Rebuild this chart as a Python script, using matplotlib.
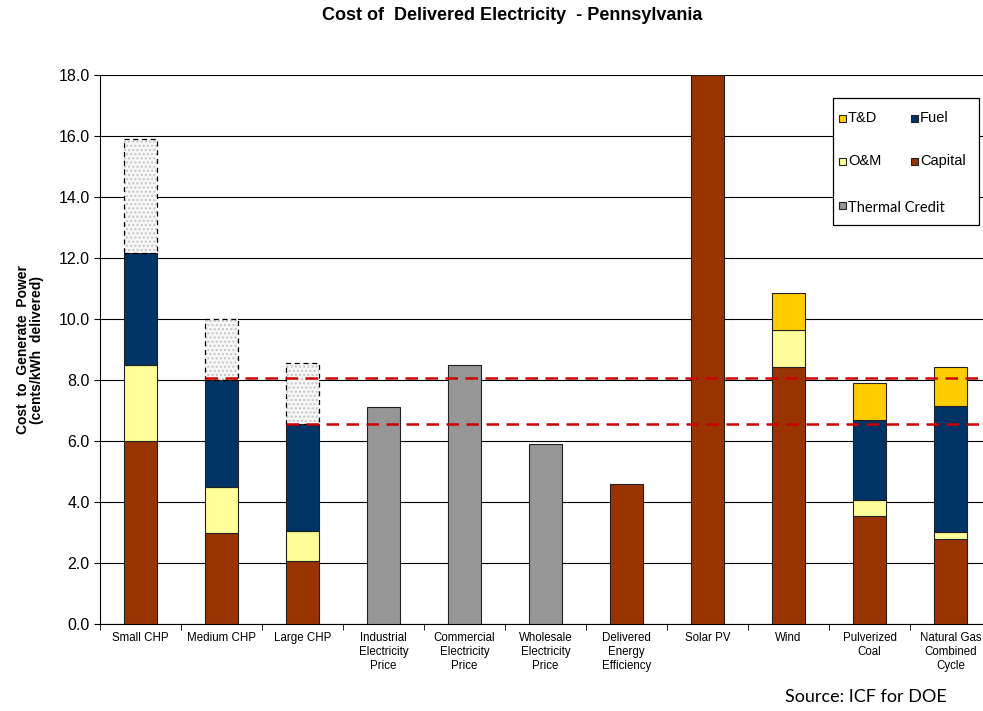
import numpy as np
import matplotlib
matplotlib.use("Agg")
import matplotlib.pyplot as plt
from matplotlib.patches import Rectangle

# ---- data (cents/kWh delivered) ----
categories = ["Small CHP", "Medium CHP", "Large CHP",
              "Industrial\nElectricity\nPrice", "Commercial\nElectricity\nPrice",
              "Wholesale\nElectricity\nPrice", "Delivered\nEnergy\nEfficiency",
              "Solar PV", "Wind", "Pulverized\nCoal", "Natural Gas\nCombined\nCycle"]
capital = [6.0, 3.0, 2.05, 0, 0, 0, 4.6, 18.0, 8.43, 3.55, 2.8]
om      = [2.5, 1.5, 1.0, 0, 0, 0, 0, 0, 1.2, 0.52, 0.22]
fuel    = [3.65, 3.5, 3.5, 0, 0, 0, 0, 0, 0, 2.62, 4.13]
td      = [0, 0, 0, 0, 0, 0, 0, 0, 1.23, 1.22, 1.29]
thermal = [3.75, 2.0, 2.0, 0, 0, 0, 0, 0, 0, 0, 0]
price   = [0, 0, 0, 7.1, 8.5, 5.9, 0, 0, 0, 0, 0]

ref_lines  = [8.07, 6.56]          # CHP net cost reference levels
ref_starts = [1, 2]                # category index where each line begins

C_CAP, C_OM, C_FUEL, C_TD, C_GRAY = "#993300", "#FFFF99", "#003366", "#FFCC00", "#969696"

W, H = 983, 711
fig = plt.figure(figsize=(W / 100, H / 100), dpi=100, facecolor="white")
# plot area runs a little past the right edge of the picture (cropped source)
ax = fig.add_axes([100 / W, 87 / H, 891 / W, 549 / H])


def px(x, y):
    # figure pixel (from top-left) -> figure fraction
    return x / W, 1 - y / H


x = np.arange(len(categories))
w = 0.41
ek = dict(edgecolor="#222222", linewidth=0.8, zorder=3)

bottom = np.zeros(len(x))
for vals, col in [(capital, C_CAP), (om, C_OM), (fuel, C_FUEL), (td, C_TD)]:
    v = np.array(vals, dtype=float)
    m = v > 0
    ax.bar(x[m], v[m], w, bottom=bottom[m], color=col, **ek)
    bottom += v

# thermal credit on top of CHP bars: light dotted fill, dashed outline
t = np.array(thermal, dtype=float)
m = t > 0
ax.bar(x[m], t[m], w, bottom=bottom[m], facecolor="#f7f7f7", hatch="....",
       edgecolor="#c4c4c4", linewidth=0, zorder=3)
ax.bar(x[m], t[m], w, bottom=bottom[m], facecolor="none",
       edgecolor="#000000", linestyle=(0, (4, 3)), linewidth=0.9, zorder=4)

p = np.array(price, dtype=float)
m = p > 0
ax.bar(x[m], p[m], w, color=C_GRAY, **ek)

for y, s in zip(ref_lines, ref_starts):
    ax.hlines(y, s - w / 2, len(x) - 0.5, colors="#CC0000", linestyles=(0, (5, 3)),
              linewidth=1.8, zorder=5)

ax.set_xlim(-0.5, len(x) - 0.5)
ax.set_ylim(0, 18)
yt = np.arange(0, 18.1, 2)
ax.set_yticks(yt)
ax.set_yticklabels([f"{v:.1f}" for v in yt], fontsize=11.5, family="Liberation Sans")
ax.yaxis.grid(True, color="black", linewidth=0.8, zorder=0)
ax.set_axisbelow(True)

ax.set_xticks(x)
ax.set_xticklabels(categories, fontsize=8.3, family="Liberation Sans",
                   linespacing=1.2, va="top")
ax.tick_params(axis="x", length=0, pad=6)
ax.set_xticks(np.arange(-0.5, len(x) - 0.4, 1), minor=True)
ax.tick_params(axis="x", which="minor", length=4, direction="out", color="black")
ax.tick_params(axis="y", length=4.5, direction="out", color="black", pad=3)

for side in ("top", "right"):
    ax.spines[side].set_visible(False)

ax.set_ylabel("Cost  to  Generate  Power\n(cents/kWh  delivered)", fontsize=10,
              fontweight="bold", family="Liberation Sans", labelpad=10, linespacing=1.05)

fig.text(*px(512, 15), "Cost of  Delivered Electricity  - Pennsylvania", ha="center",
         va="center", fontsize=13, fontweight="bold", family="Liberation Sans")

# legend box drawn by hand so "Thermal Credit" can run under the second column
bx0, by0 = px(833, 225)
bx1, by1 = px(979, 98)
fig.add_artist(Rectangle((bx0, by0), bx1 - bx0, by1 - by0, transform=fig.transFigure,
                         facecolor="white", edgecolor="black", linewidth=0.9, zorder=6))
items = [("T&D", C_TD, 839, 118, "Liberation Sans"),
         ("Fuel", C_FUEL, 911, 118, "Liberation Sans"),
         ("O&M", C_OM, 839, 161, "Liberation Sans"),
         ("Capital", C_CAP, 911, 161, "Liberation Sans"),
         ("Thermal Credit", C_GRAY, 839, 205, "Lato")]
sq = 7
for lab, col, lx, ly, fam in items:
    mx, my = px(lx, ly + sq / 2)
    fig.add_artist(Rectangle((mx, my), sq / W, sq / H, transform=fig.transFigure,
                             facecolor=col, edgecolor="#222", linewidth=0.8, zorder=7))
    dy = 3 if lab == "Thermal Credit" else 0
    fig.text(*px(lx + sq + 2, ly + dy), lab, ha="left", va="center", fontsize=10.5,
             family=fam, zorder=8)

fig.text(*px(947, 697), "Source: ICF for DOE", ha="right", va="center", fontsize=13,
         family="Lato")

fig.savefig("out.png", dpi=100)
